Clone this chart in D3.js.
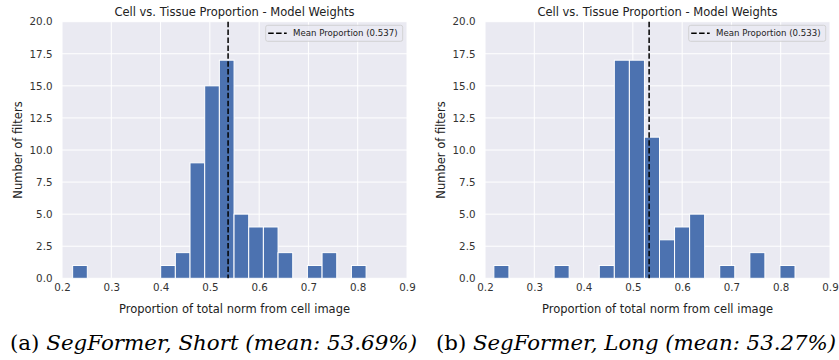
<!DOCTYPE html>
<html><head><meta charset="utf-8">
<script src="https://cdn.jsdelivr.net/npm/d3@7"></script>
<style>
body{margin:0;background:#fff;}
svg{display:block;font-family:"DejaVu Sans",sans-serif;}
</style></head>
<body><svg id="c" width="839" height="360"></svg>
<script>
// ---- data ----
const titleText = "Cell vs. Tissue Proportion - Model Weights";
const xLabel = "Proportion of total norm from cell image";
const yLabel = "Number of filters";
const xTicks = [0.2, 0.3, 0.4, 0.5, 0.6, 0.7, 0.8, 0.9];
const yTicks = [0, 2.5, 5, 7.5, 10, 12.5, 15, 17.5, 20];
const shortRange = [0.2216, 0.817];
const shortCounts = [1,0,0,0,0,0,1,2,9,15,17,5,4,4,2,0,1,2,0,1];
const shortMean = 0.537;
const longRange = [0.218, 0.829];
const longCounts = [1,0,0,0,1,0,0,1,17,17,11,3,4,5,0,1,0,2,0,1];
const longMean = 0.533;
const captions = [
  {lab:"(a) ", txt:"SegFormer, Short (mean: 53.69%)"},
  {lab:"(b) ", txt:"SegFormer, Long (mean: 53.27%)"}
];

const svg = d3.select("#c");

function drawPanel(ox, range, counts, mean, cap, capX, capW) {
  const left = ox + 62, right = ox + 407, top = 21.7, bottom = 278.3;
  const x = d3.scaleLinear().domain([0.2, 0.9]).range([left, right]);
  const y = d3.scaleLinear().domain([0, 20]).range([bottom, top]);
  const g = svg.append("g");
  g.append("rect").attr("x", left).attr("y", top).attr("width", right-left).attr("height", bottom-top).attr("fill", "#EAEAF2");
  // grid
  g.selectAll(".gx").data(xTicks).join("line").attr("x1", d=>x(d)).attr("x2", d=>x(d)).attr("y1", top).attr("y2", bottom).attr("stroke", "#fff").attr("stroke-width", 1);
  g.selectAll(".gy").data(yTicks).join("line").attr("y1", d=>y(d)).attr("y2", d=>y(d)).attr("x1", left).attr("x2", right).attr("stroke", "#fff").attr("stroke-width", 1);
  // bars
  const n = counts.length, w = (range[1]-range[0])/n;
  const bins = counts.map((c,i)=>({x0: range[0]+i*w, x1: range[0]+(i+1)*w, c}));
  g.selectAll(".bar").data(bins.filter(b=>b.c>0)).join("rect")
    .attr("x", d=>x(d.x0)).attr("width", d=>x(d.x1)-x(d.x0))
    .attr("y", d=>y(d.c)).attr("height", d=>y(0)-y(d.c))
    .attr("fill", "#4C72B0").attr("stroke", "#fff").attr("stroke-width", 1);
  // mean line
  g.append("line").attr("x1", x(mean)).attr("x2", x(mean)).attr("y1", top).attr("y2", bottom)
    .attr("stroke", "#000").attr("stroke-width", 1.5).attr("stroke-dasharray", "5.5,2.4");
  // ticks
  const xa = d3.axisBottom(x).tickValues(xTicks).tickSize(0).tickPadding(5).tickFormat(d3.format(".1f"));
  const xg = g.append("g").attr("transform", `translate(0,${bottom})`).call(xa);
  const ya = d3.axisLeft(y).tickValues(yTicks).tickSize(0).tickPadding(9.5).tickFormat(d3.format(".1f"));
  const yg = g.append("g").attr("transform", `translate(${left},0)`).call(ya);
  [xg, yg].forEach(a=>{a.select(".domain").remove(); a.selectAll("text").attr("fill","#333").attr("font-size", 10.3).attr("font-family","DejaVu Sans");});
  // labels
  g.append("text").attr("x", (left+right)/2).attr("y", 15.5).attr("text-anchor","middle").attr("font-size", 11.5).attr("fill","#222").text(titleText);
  g.append("text").attr("x", (left+right)/2).attr("y", 313).attr("text-anchor","middle").attr("font-size", 11.5).attr("fill","#222").text(xLabel);
  g.append("text").attr("transform", `translate(${ox+22},${(top+bottom)/2}) rotate(-90)`).attr("text-anchor","middle").attr("font-size", 11.5).attr("fill","#222").text(yLabel);
  // legend
  const lx = ox + 265.7, ly = 25.3, lw = 137, lh = 16;
  g.append("rect").attr("x", lx).attr("y", ly).attr("width", lw).attr("height", lh).attr("rx", 2)
    .attr("fill", "#EAEAF2").attr("fill-opacity", 0.8).attr("stroke", "#ccc").attr("stroke-width", 0.8);
  g.append("line").attr("x1", lx+2.5).attr("x2", lx+21).attr("y1", ly+lh/2).attr("y2", ly+lh/2)
    .attr("stroke", "#000").attr("stroke-width", 1.5).attr("stroke-dasharray", "5.5,2.4");
  g.append("text").attr("x", lx+27.3).attr("y", ly+lh/2+3).attr("font-size", 8.6).attr("fill","#222")
    .text(`Mean Proportion (${mean.toFixed(3)})`);
  // caption
  const t = svg.append("text").attr("x", capX).attr("y", 350).attr("font-family", "'DejaVu Serif', serif").attr("font-size", 21).attr("fill", "#000")
    .attr("textLength", capW).attr("lengthAdjust", "spacingAndGlyphs");
  t.append("tspan").text(cap.lab);
  t.append("tspan").attr("font-style", "italic").text(cap.txt);
}

drawPanel(0, shortRange, shortCounts, shortMean, captions[0], 10, 407);
drawPanel(423, longRange, longCounts, longMean, captions[1], 436, 400);
</script></body></html>
